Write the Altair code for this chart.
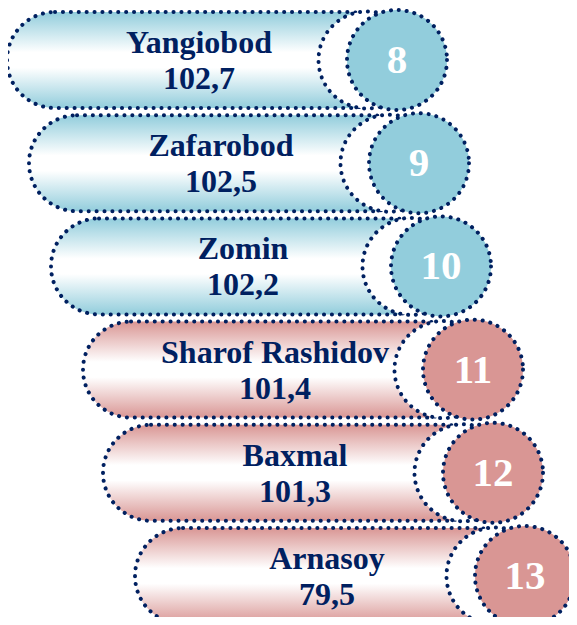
import altair as alt
import pandas as pd

# ---- data ----
ranks = [8, 9, 10, 11, 12, 13]
names = ["Yangiobod", "Zafarobod", "Zomin", "Sharof Rashidov", "Baxmal", "Arnasoy"]
values = [102.7, 102.5, 102.2, 101.4, 101.3, 79.5]
groups = ["blue", "blue", "blue", "red", "red", "red"]

# ---- layout / style ----
indent = [0, 22, 44, 76, 96, 128]
left0 = 7
top0 = 12
pitch = 103.2
row_h = 96
circle_dx = 390
white_dx = -30
text_dx = 192
navy = "#002060"
colors = {"blue": "#92cddc", "red": "#d99694"}

rows = []
for i, (r, n, v, g) in enumerate(zip(ranks, names, values, groups)):
    left = left0 + indent[i]
    top = top0 + i * pitch
    cy = top + row_h / 2
    cx = left + circle_dx
    rows.append(dict(rank=str(r), name=n, label=f"{v:.1f}".replace(".", ","), group=g,
                     left=left, right=cx, top=top, bottom=top + row_h, cy=cy,
                     cx=cx, wx=cx + white_dx, tx=left + text_dx))
df = pd.DataFrame(rows)

W, H = 561, 609
xs = alt.Scale(domain=[8, 8 + W], nice=False, zero=False)
ys = alt.Scale(domain=[8, 8 + H], nice=False, zero=False, reverse=True)
X = lambda f: alt.X(f, type="quantitative", scale=xs, axis=None)
Y = lambda f: alt.Y(f, type="quantitative", scale=ys, axis=None)

dots = dict(stroke=navy, strokeWidth=4, strokeDash=[0.1, 7.8], strokeCap="round")

def grad(c):
    return alt.Gradient(gradient="linear", x1=0, y1=0, x2=0, y2=1,
                        stops=[alt.GradientStop(color=c, offset=0),
                               alt.GradientStop(color="#ffffff", offset=0.42),
                               alt.GradientStop(color="#ffffff", offset=0.58),
                               alt.GradientStop(color=c, offset=1)])

base = alt.Chart(df)
layers = []
for g in ["blue", "red"]:
    layers.append(base.transform_filter(alt.datum.group == g)
                  .mark_rect(cornerRadius=row_h / 2, fill=grad(colors[g]), **dots)
                  .encode(x=X("left"), x2="right", y=Y("top"), y2="bottom"))
white = base.mark_point(shape="circle", filled=True, fill="white", size=97 * 97,
                        opacity=1, **dots).encode(x=X("wx"), y=Y("cy"))
layers.append(white)
for g in ["blue", "red"]:
    layers.append(base.transform_filter(alt.datum.group == g)
                  .mark_point(shape="circle", filled=True, fill=colors[g], size=100 * 100,
                              opacity=1, **dots)
                  .encode(x=X("cx"), y=Y("cy")))
font = "Liberation Serif"
name_t = base.mark_text(font=font, fontWeight="bold", fontSize=32, color=navy,
                        baseline="alphabetic", dy=-7).encode(x=X("tx"), y=Y("cy"), text="name")
val_t = base.mark_text(font=font, fontWeight="bold", fontSize=32, color=navy,
                       baseline="alphabetic", dy=29).encode(x=X("tx"), y=Y("cy"), text="label")
rank_t = base.mark_text(font=font, fontWeight="bold", fontSize=41, color="white",
                        baseline="alphabetic", dy=13).encode(x=X("cx"), y=Y("cy"), text="rank")
layers += [name_t, val_t, rank_t]

chart = alt.layer(*layers).properties(
    width=W, height=H, padding=0,
    autosize=alt.AutoSizeParams(type="none"),
).configure_view(stroke=None)

chart.save("out.html", embed_options={"renderer": "svg", "actions": False})
